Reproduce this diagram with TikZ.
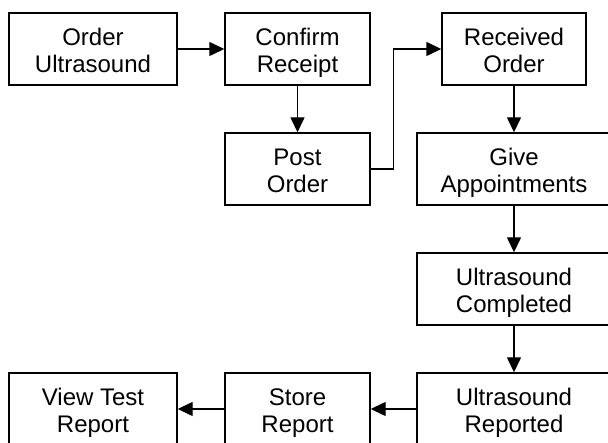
\documentclass[tikz,border=0pt]{standalone}
\usepackage{fontspec}
\setmainfont{Liberation Sans}
\usetikzlibrary{arrows.meta}
\newcommand\twolines[2]{\begin{tabular}[t]{@{}c@{}}#1\\#2\end{tabular}}

\begin{document}
\begin{tikzpicture}[x=1pt, y=-1pt,
  box/.style={draw, line width=1.4pt, minimum height=72pt, inner sep=0pt,
    font=\fontsize{24}{27}\selectfont, text height=20pt, text depth=26pt},
  flow/.style={-{Triangle[length=15pt, width=14pt]}, line width=1.4pt}]
  \useasboundingbox (0,0) rectangle (608,443);
  \node[box, minimum width=168pt] (order) at (93,49) {\twolines{Order}{Ultrasound}};
  \node[box, minimum width=145pt] (confirm) at (297.5,49) {\twolines{Confirm}{Receipt}};
  \node[box, minimum width=145pt] (post) at (297.5,169) {\twolines{Post}{Order}};
  \node[box, minimum width=144pt] (received) at (514,49) {\twolines{Received}{Order}};
  \node[box, minimum width=194pt] (appoint) at (514,169) {\twolines{Give}{Appointments}};
  \node[box, minimum width=194pt] (completed) at (514,289) {\twolines{Ultrasound}{Completed}};
  \node[box, minimum width=194pt] (reported) at (514,409) {\twolines{Ultrasound}{Reported}};
  \node[box, minimum width=145pt] (store) at (297.5,409) {\twolines{Store}{Report}};
  \node[box, minimum width=168pt] (view) at (93,409) {\twolines{View Test}{Report}};
  \draw[flow] (order) -- (confirm);
  \draw[flow] (confirm) -- (post);
  \draw[flow] (post.east) -- ++(23,0) |- (received.west);
  \draw[flow] (received) -- (appoint);
  \draw[flow] (appoint) -- (completed);
  \draw[flow] (completed) -- (reported);
  \draw[flow] (reported) -- (store);
  \draw[flow] (store) -- (view);
\end{tikzpicture}
\end{document}
